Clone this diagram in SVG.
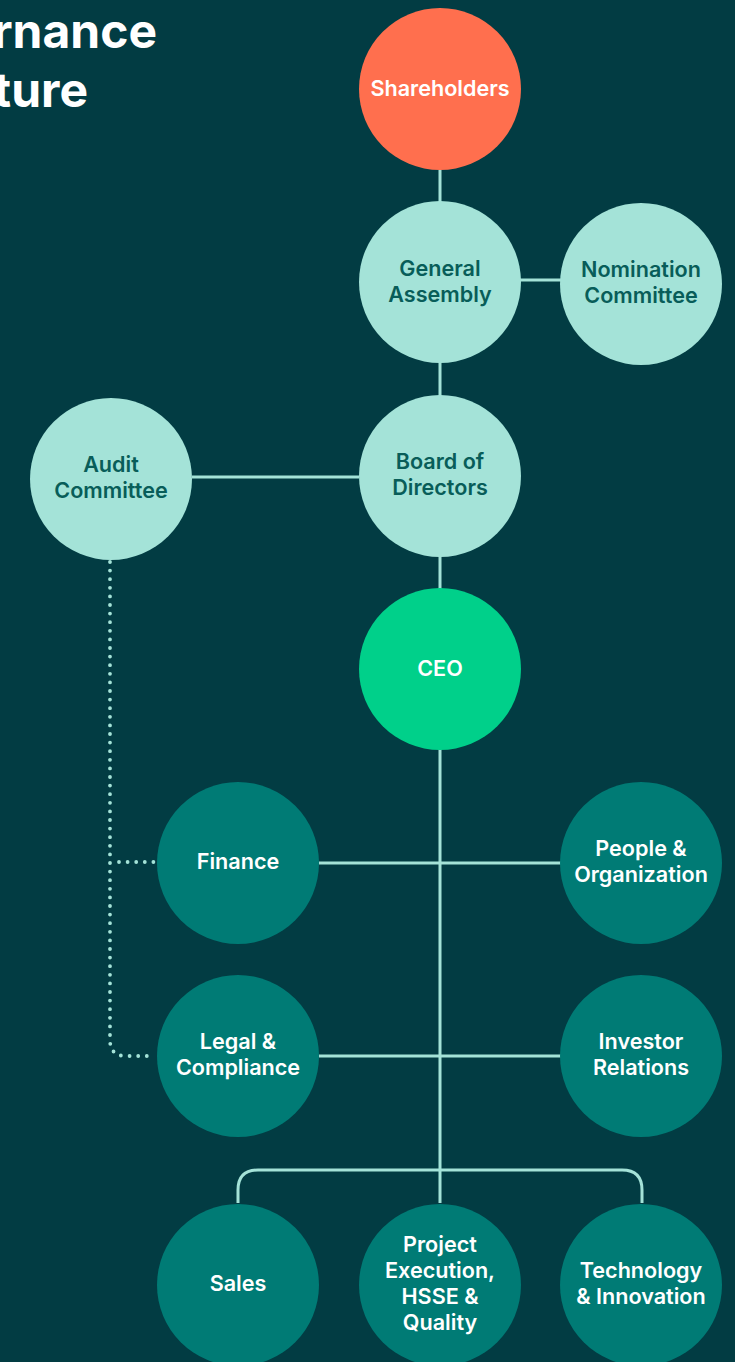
<svg xmlns="http://www.w3.org/2000/svg" width="735" height="1362" viewBox="0 0 735 1362">
  <style>
    .bg { fill: #023c43; }
    .title { font-family: Inter, "Liberation Sans", sans-serif; font-weight: 700; font-size: 48px; fill: #ffffff; }
    .lbl { font-family: Inter, "Liberation Sans", sans-serif; font-weight: 600; font-size: 21.6px; text-anchor: middle; }
    .light { fill: #ffffff; }
    .dark { fill: #085d59; }
    .mint { fill: #a4e3d8; }
    .teal { fill: #007b75; }
    .coral { fill: #ff6f4e; }
    .green { fill: #00d08a; }
    .link { fill: none; stroke: #a4e3d8; stroke-width: 3; }
    .dotted { fill: none; stroke: #a4e3d8; stroke-width: 3.8; stroke-linecap: round; stroke-dasharray: 0 8.6; }
  </style>
  <rect class="bg" x="0" y="0" width="735" height="1362"/>

  <!-- heading, partly off the left edge -->
  <g id="heading">
    <text class="title" x="157" y="48" text-anchor="end">Governance</text>
    <text class="title" x="88" y="107" text-anchor="end">Structure</text>
  </g>

  <!-- connectors -->
  <g id="connectors">
    <path class="link" d="M440 170 V1203"/>
    <path class="link" d="M520 280 H561"/>
    <path class="link" d="M192 477 H359"/>
    <path class="link" d="M319 863 H561"/>
    <path class="link" d="M319 1056 H561"/>
    <path class="link" d="M238 1203 V1190 Q238 1170 258 1170 H622 Q642 1170 642 1190 V1203"/>
    <path class="dotted" d="M110 562 V1040 Q110 1056 126 1056 H155"/>
    <path class="dotted" d="M119 862 H155"/>
  </g>

  <g id="shareholders">
    <circle class="coral" cx="440" cy="89" r="81"/>
    <text class="lbl light" x="440" y="96">Shareholders</text>
  </g>
  <g id="general-assembly">
    <circle class="mint" cx="440" cy="282" r="81"/>
    <text class="lbl dark" x="440" y="276">General</text>
    <text class="lbl dark" x="440" y="302">Assembly</text>
  </g>
  <g id="nomination-committee">
    <circle class="mint" cx="641" cy="284" r="81"/>
    <text class="lbl dark" x="641" y="277">Nomination</text>
    <text class="lbl dark" x="641" y="303">Committee</text>
  </g>
  <g id="audit-committee">
    <circle class="mint" cx="111" cy="479" r="81"/>
    <text class="lbl dark" x="111" y="472">Audit</text>
    <text class="lbl dark" x="111" y="498">Committee</text>
  </g>
  <g id="board-of-directors">
    <circle class="mint" cx="440" cy="476" r="81"/>
    <text class="lbl dark" x="440" y="469">Board of</text>
    <text class="lbl dark" x="440" y="495">Directors</text>
  </g>
  <g id="ceo">
    <circle class="green" cx="440" cy="669" r="81"/>
    <text class="lbl light" x="440" y="676">CEO</text>
  </g>
  <g id="finance">
    <circle class="teal" cx="238" cy="863" r="81"/>
    <text class="lbl light" x="238" y="869">Finance</text>
  </g>
  <g id="people-organization">
    <circle class="teal" cx="641" cy="863" r="81"/>
    <text class="lbl light" x="641" y="856">People &amp;</text>
    <text class="lbl light" x="641" y="882">Organization</text>
  </g>
  <g id="legal-compliance">
    <circle class="teal" cx="238" cy="1056" r="81"/>
    <text class="lbl light" x="238" y="1049">Legal &amp;</text>
    <text class="lbl light" x="238" y="1075">Compliance</text>
  </g>
  <g id="investor-relations">
    <circle class="teal" cx="641" cy="1056" r="81"/>
    <text class="lbl light" x="641" y="1049">Investor</text>
    <text class="lbl light" x="641" y="1075">Relations</text>
  </g>
  <g id="sales">
    <circle class="teal" cx="238" cy="1285" r="81"/>
    <text class="lbl light" x="238" y="1291">Sales</text>
  </g>
  <g id="project-execution">
    <circle class="teal" cx="440" cy="1285" r="81"/>
    <text class="lbl light" x="440" y="1252">Project</text>
    <text class="lbl light" x="440" y="1278">Execution,</text>
    <text class="lbl light" x="440" y="1304">HSSE &amp;</text>
    <text class="lbl light" x="440" y="1330">Quality</text>
  </g>
  <g id="technology-innovation">
    <circle class="teal" cx="641" cy="1285" r="81"/>
    <text class="lbl light" x="641" y="1278">Technology</text>
    <text class="lbl light" x="641" y="1304">&amp; Innovation</text>
  </g>
</svg>
